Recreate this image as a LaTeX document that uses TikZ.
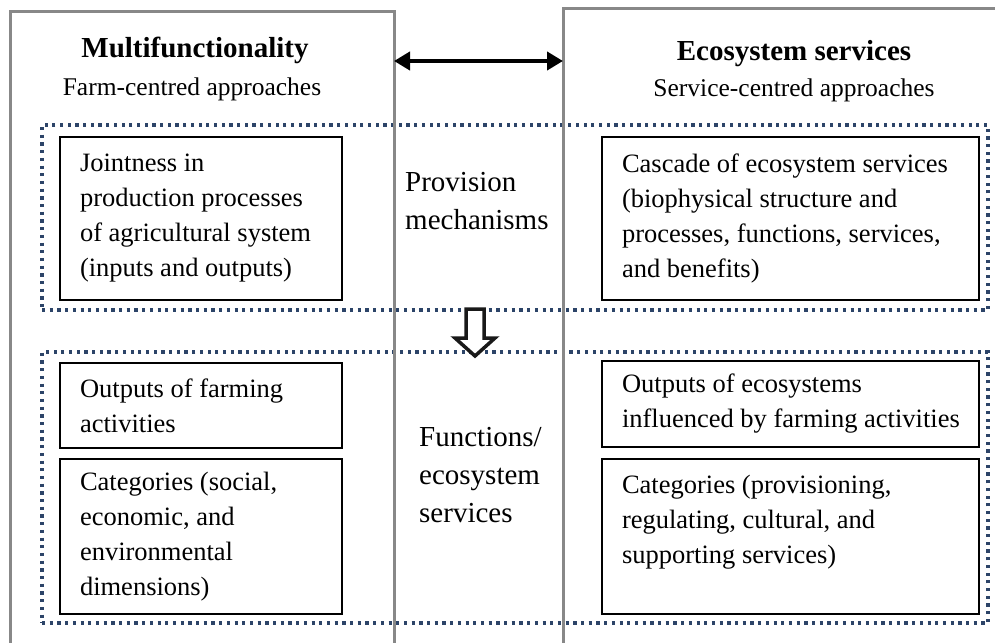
\documentclass[tikz,border=0pt]{standalone}
\usepackage{fontspec}
\setmainfont{Liberation Serif}
\usetikzlibrary{arrows.meta}
\definecolor{dotblue}{RGB}{44,68,104}
\definecolor{framegray}{RGB}{136,136,136}
\newcommand{\boxtxt}[2]{\parbox{#1}{\raggedright\leftskip=20pt\relax\fontsize{26.5}{35}\selectfont #2}}
\begin{document}
\begin{tikzpicture}[x=1pt,y=-1pt,
  graybox/.style={draw=framegray,line width=3pt,inner sep=0pt,outer sep=0pt,anchor=north west},
  dotbox/.style={draw=dotblue,line width=3.2pt,dash pattern=on 3.2pt off 4.5pt,inner sep=0pt,outer sep=0pt,anchor=north west},
  itembox/.style={draw=black,line width=2pt,inner sep=0pt,outer sep=0pt,anchor=north west},
  midlabel/.style={inner sep=0pt,anchor=north west,align=left,font=\fontsize{29}{38}\selectfont},
  titletext/.style={inner sep=0pt,anchor=base,font=\fontsize{29}{34}\selectfont\bfseries},
  subtext/.style={inner sep=0pt,anchor=base,font=\fontsize{25.5}{30}\selectfont}]
\useasboundingbox (0,0) rectangle (995,642);
% dotted groups
\node[dotbox,minimum width=946pt,minimum height=185pt] (D1) at (42,125) {};
\node[dotbox,minimum width=946pt,minimum height=271pt] (D2) at (42,352) {};
% gray frames
\node[graybox,minimum width=384pt,minimum height=660pt] (L) at (10,12) {};
\node[graybox,minimum width=460pt,minimum height=660pt] (R) at (563,9) {};
% titles
\node[titletext] (t1) at (195,58) {Multifunctionality};
\node[subtext] (s1) at (192,95) {Farm-centred approaches};
\node[titletext] (t2) at (794,60) {Ecosystem services};
\node[subtext] (s2) at (794,96) {Service-centred approaches};
% double arrow
\coordinate (ay) at (0,61);
\draw[line width=4pt,{Triangle[length=16pt,width=18pt]}-{Triangle[length=16pt,width=18pt]}] (L.east |- ay) -- (R.west |- ay);
% upper boxes
\node[itembox,minimum width=282pt,minimum height=163pt] (J) at (60,137)
  {\boxtxt{282pt}{Jointness in\\production processes\\of agricultural system\\(inputs and outputs)}};
\node[itembox,minimum width=377pt,minimum height=163pt] (C) at (602,137)
  {\boxtxt{377pt}{Cascade of ecosystem services\\(biophysical structure and\\processes, functions, services,\\and benefits)}};
\node[midlabel] (P) at (405,172) {Provision\\mechanisms};
% lower boxes
\node[itembox,minimum width=282pt,minimum height=85pt] (O1) at (60,363)
  {\boxtxt{282pt}{Outputs of farming\\activities}};
\node[itembox,minimum width=282pt,minimum height=155pt] (K1) at (60,459)
  {\boxtxt{282pt}{Categories (social,\\economic, and\\environmental\\dimensions)}};
\node[itembox,minimum width=377pt,minimum height=86pt] (O2) at (602,361)
  {\boxtxt{377pt}{Outputs of ecosystems\\influenced by farming activities}};
\node[itembox,minimum width=377pt,minimum height=155pt] (K2) at (602,459)
  {\boxtxt{377pt}{Categories (provisioning,\\regulating, cultural, and\\supporting services)\\\mbox{}}};
\node[midlabel] (F) at (419,427) {Functions/\\ecosystem\\services};
% hollow down arrow
\draw[line width=3.5pt,draw=black!90,fill=white,line join=miter]
  (466,309) -- (484,309) -- (484,338) -- (495,338) -- (475,356) -- (455,338) -- (466,338) -- cycle;
\end{tikzpicture}
\end{document}
